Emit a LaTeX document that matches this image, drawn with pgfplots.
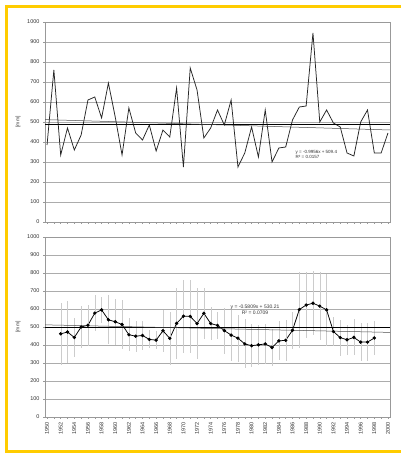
\documentclass[border=0pt]{standalone}
\usepackage{fontspec}
\setmainfont{Liberation Sans}
\usepackage{pgfplots}
\pgfplotsset{compat=1.18}
\definecolor{frameyellow}{RGB}{255,204,0}
\pgfplotstableread{
x y
1950 385
1951 760
1952 335
1953 470
1954 360
1955 435
1956 610
1957 625
1958 520
1959 695
1960 525
1961 335
1962 570
1963 445
1964 410
1965 485
1966 355
1967 460
1968 425
1969 670
1970 275
1971 770
1972 660
1973 420
1974 470
1975 560
1976 485
1977 610
1978 275
1979 345
1980 475
1981 325
1982 560
1983 300
1984 370
1985 375
1986 510
1987 575
1988 580
1989 945
1990 500
1991 560
1992 495
1993 475
1994 345
1995 330
1996 500
1997 560
1998 345
1999 345
2000 445
}\annual
\pgfplotstableread{
x y e
1952 462 174
1953 472 170
1954 442 109
1955 500 115
1956 510 113
1957 577 101
1958 595 74
1959 540 136
1960 529 129
1961 514 135
1962 457 93
1963 449 87
1964 453 81
1965 431 50
1966 427 50
1967 479 117
1968 437 148
1969 520 199
1970 560 203
1971 559 204
1972 519 197
1973 576 142
1974 519 93
1975 509 76
1976 480 128
1977 455 142
1978 438 131
1979 406 136
1980 396 118
1981 401 112
1982 406 109
1983 386 102
1984 423 108
1985 426 113
1986 482 104
1987 597 211
1988 622 184
1989 632 178
1990 616 188
1991 595 198
1992 475 79
1993 441 100
1994 429 84
1995 442 100
1996 416 106
1997 416 106
1998 439 95
}\moving
\pgfplotsset{
  common/.style={
    scale only axis,
    width=345pt,
    xmin=1949.7, xmax=2000.3,
    ymin=0, ymax=1000,
    ytick={0,100,...,1000},
    ymajorgrids,
    grid style={gray!65, line width=0.9pt},
    axis line style={gray!80, line width=0.6pt},
    tick style={gray!80, line width=0.4pt},
    tick align=outside,
    tick pos=left,
    major tick length=2pt,
    minor tick length=2pt,
    tick label style={font=\fontsize{5.5}{6}\selectfont, text=black!80},
    /pgf/number format/assume math mode=true,
    /pgf/number format/set thousands separator={},
    ylabel={[mm]},
    ylabel style={font=\fontsize{5}{6}\selectfont, text=black!80, xshift=0pt},
  }
}
\begin{document}
\begin{tikzpicture}[x=1pt,y=1pt]
\useasboundingbox (0,0) rectangle (401,455);
\fill[white] (0,0) rectangle (401,455);
\draw[frameyellow, line width=3pt] (6,3) rectangle (405,448);
% top chart
\begin{axis}[common,
  at={(45pt,233pt)}, anchor=south west,
  height=200pt,
  xtick={1950,1951,...,2000},
  xticklabels={},
]
\addplot[black!85, line width=0.75pt] table[x=x,y=y] {\annual};
\addplot[black, line width=0.7pt] coordinates {(1949.7,490) (2000.3,490)};
\addplot[black!70, line width=0.5pt] coordinates {(1949.7,512) (2000.3,460)};
\node[font=\fontsize{4.5}{5}\selectfont, align=left, text=black!80] at (axis cs:1989.5,340) {y = -0.9956x + 509.4\\R² = 0.0157};
\end{axis}
% bottom chart
\begin{axis}[common,
  at={(45pt,38pt)}, anchor=south west,
  height=180pt,
  xtick={1950,1952,...,2000},
  minor xtick={1951,1953,...,1999},
  x tick label style={rotate=90, anchor=east, font=\fontsize{5.5}{6}\selectfont},
]
\addplot[black, line width=0.75pt, mark=*, mark size=1.3pt,
  error bars/.cd, y dir=both, y explicit,
  error bar style={gray!40, line width=0.3pt}, error mark=none]
  table[x=x, y=y, y error=e] {\moving};
\addplot[black, line width=0.7pt] coordinates {(1949.7,497) (2000.3,497)};
\addplot[black!70, line width=0.5pt] coordinates {(1949.7,512) (2000.3,470)};
\node[font=\fontsize{5}{6}\selectfont, align=center, text=black!80] at (axis cs:1980.5,595) {y = -0.5809x + 530.21\\R² = 0.0709};
\end{axis}
\end{tikzpicture}
\end{document}
